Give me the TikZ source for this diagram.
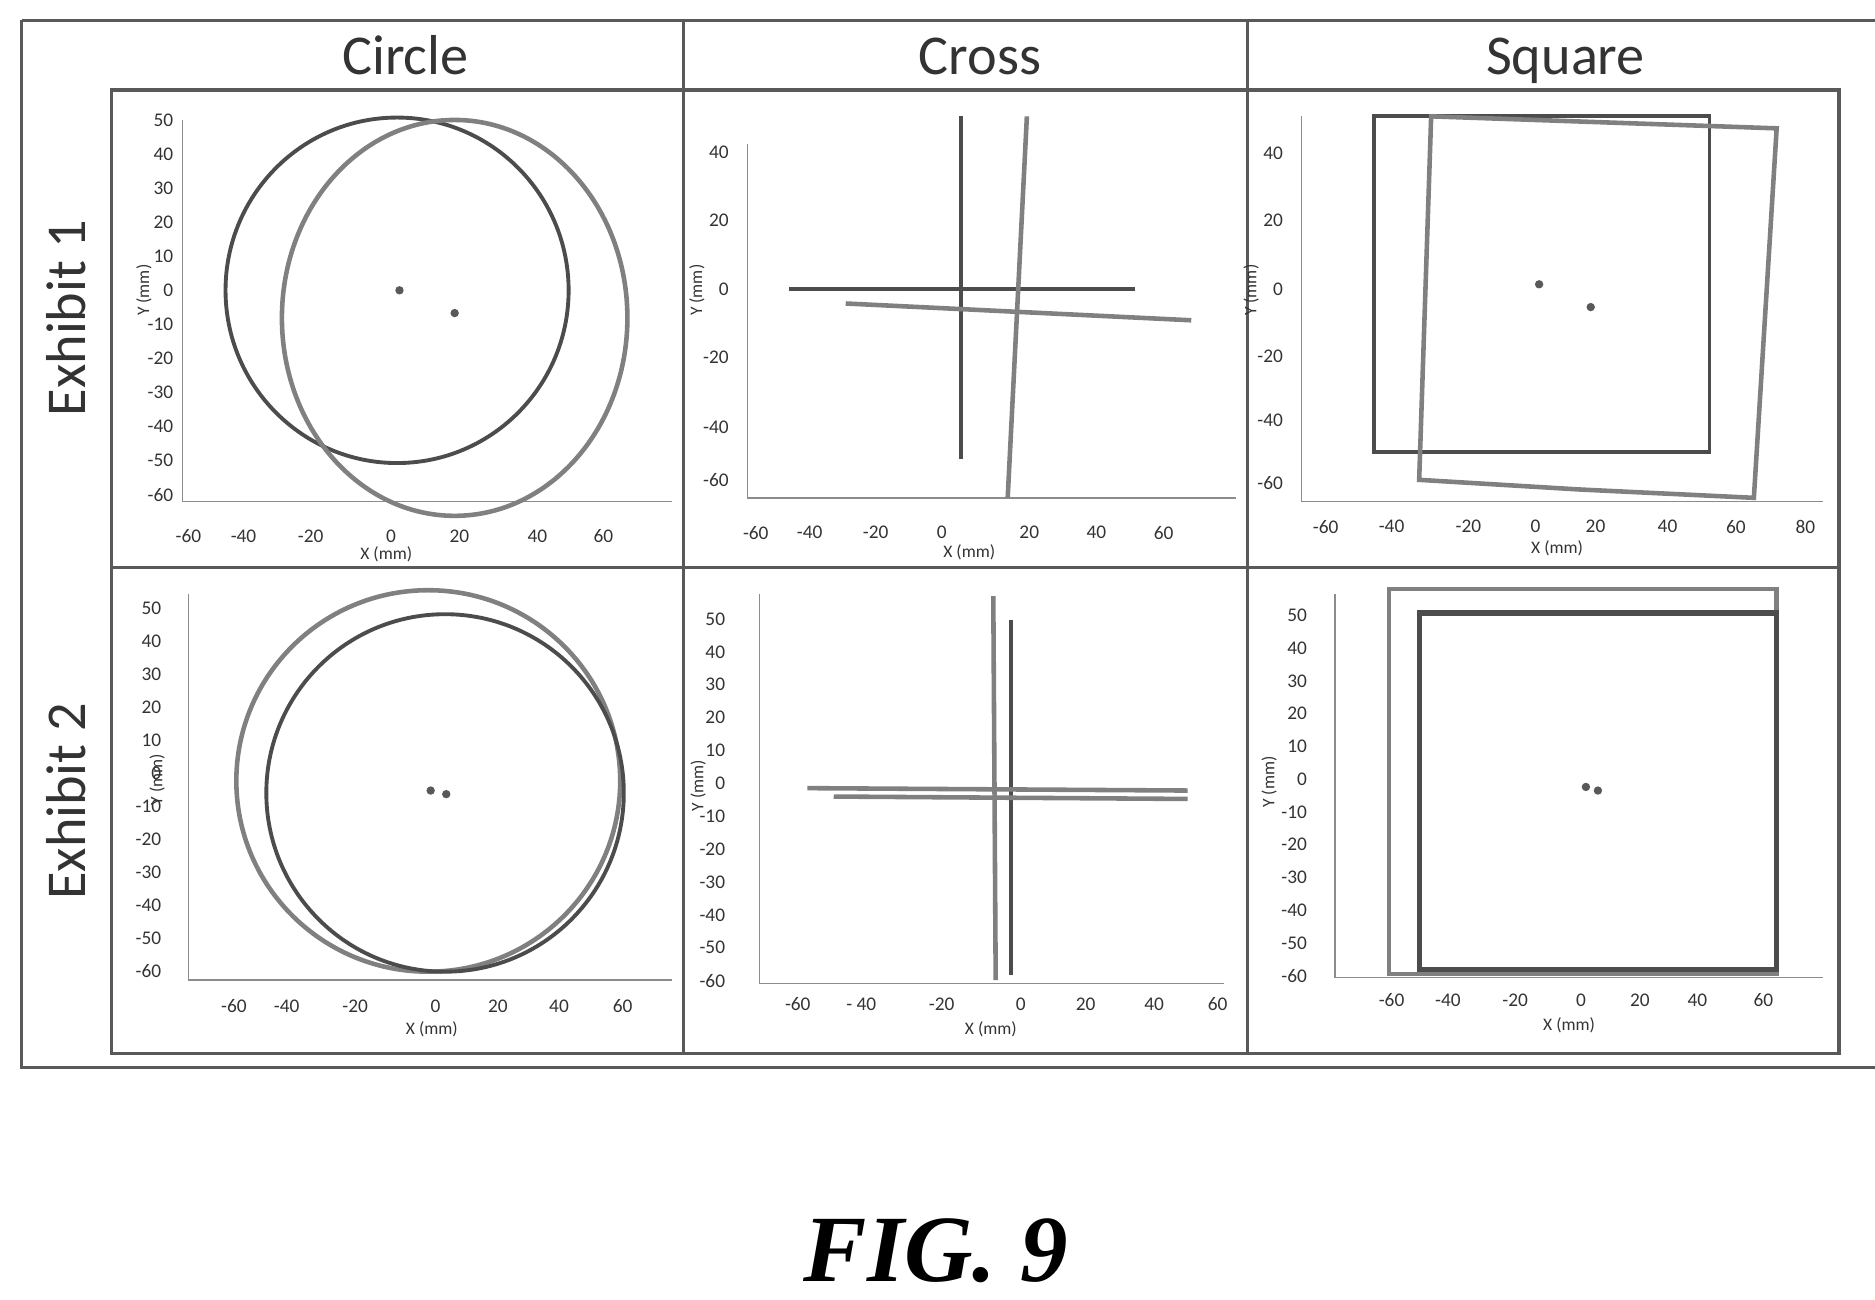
\documentclass[tikz,border=0pt]{standalone}
\usepackage{fontspec}
\setmainfont{Liberation Serif}
\setsansfont{Carlito}
\begin{document}
\begin{tikzpicture}[x=0.012cm,y=-0.012cm,
 grid/.style={draw=black!65,line width=0.9pt},
 ax/.style={draw=black!45,line width=0.4pt},
 tk/.style={font=\sffamily\fontsize{5.5}{5.5}\selectfont,text=black!80,inner sep=0pt},
 lab/.style={font=\sffamily\fontsize{5}{5}\selectfont,text=black!80,inner sep=0pt},
 head/.style={font=\sffamily\fontsize{16}{16}\selectfont,text=black!80},
 s1/.style={draw=black!70,line width=1.1pt},
 s2/.style={draw=black!50,line width=1.3pt},
 dot/.style={fill=black!65,draw=none}]
\useasboundingbox (0,0) rectangle (1563,1083);
% table
\draw[grid] (18,17) -- (1563,17);
\draw[grid] (18,17) -- (18,890) -- (1563,890);
\draw[grid] (93,75) rectangle (1533,878);
\draw[grid] (570,17) -- (570,878);
\draw[grid] (1040,17) -- (1040,878);
\draw[grid] (93,473) -- (1533,473);
\node[head,anchor=base] (h1) at (338,62) {Circle};
\node[head,anchor=base] (h2) at (817,62) {Cross};
\node[head,anchor=base] (h3) at (1305,62) {Square};
\node[head,rotate=90] (r1) at (55,265) {Exhibit 1};
\node[head,rotate=90] (r2) at (55,668) {Exhibit 2};
\node[font=\bfseries\itshape\fontsize{27}{27}\selectfont,anchor=base] (fig) at (780,1068) {FIG. 9};
% ---------- panel 1
\draw[ax] (152,100) -- (152,418) -- (560,418);
\foreach \x/\l in {157/-60,203/-40,259/-20,326/0,383/20,448/40,503/60} \node[tk] at (\x,447) {\l};
\foreach \l [count=\i from 0] in {50,40,30,20,10,0,-10,-20,-30,-40,-50,-60} \node[tk,anchor=east] at (145,100+\i*28.4) {\l};
\node[lab] (xl1) at (322,462) {X (mm)};
\node[lab,rotate=90] (yl1) at (120,242) {Y (mm)};
\draw[s1] (331,242) circle [x radius=143,y radius=144];
\draw[s2] (379,265) ellipse [x radius=144,y radius=165];
\fill[dot] (333,242) circle (3.5); \fill[dot] (379,261) circle (3.5);
% ---------- panel 2
\draw[ax] (623,120) -- (623,415) -- (1030,415);
\foreach \x/\l in {630/-60,675/-40,730/-20,785/0,858/20,914/40,970/60} \node[tk] at (\x,444) {\l};
\foreach \y/\l in {127/40,184/20,241/0,298/-20,356/-40,400/-60} \node[tk,anchor=east] at (608,\y) {\l};
\node[lab] (xl2) at (808,460) {X (mm)};
\node[lab,rotate=90] (yl2) at (581,242) {Y (mm)};
\draw[s1] (801,97) -- (801,383);
\draw[s1] (658,241) -- (946,241);
\draw[s2] (856,97) -- (840,415);
\draw[s2] (705,253) -- (993,267);
% ---------- panel 3
\draw[ax] (1085,97) -- (1085,418) -- (1520,418);
\foreach \x/\l in {1105/-60,1160/-40,1224/-20,1280/0,1330/20,1390/40,1447/60,1505/80} \node[tk] at (\x,439) {\l};
\foreach \y/\l in {128/40,184/20,241/0,297/-20,350/-40,403/-60} \node[tk,anchor=east] at (1070,\y) {\l};
\node[lab] (xl3) at (1298,457) {X (mm)};
\node[lab,rotate=90] (yl3) at (1043,242) {Y (mm)};
\draw[s1] (1145,97) rectangle (1425,377);
\draw[s2] (1193,97) -- (1481,107) -- (1462,415) -- (1316,408) -- (1183,400) -- cycle;
\fill[dot] (1283,237) circle (3.5); \fill[dot] (1326,256) circle (3.5);
% ---------- panel 4
\draw[ax] (157,495) -- (157,817) -- (560,817);
\foreach \x/\l in {195/-60,239/-40,296/-20,363/0,415/20,466/40,519/60} \node[tk] at (\x,839) {\l};
\foreach \l [count=\i from 0] in {50,40,30,20,10,0,-10,-20,-30,-40,-50,-60} \node[tk,anchor=east] at (135,507+\i*27.5) {\l};
\node[lab] (xl4) at (360,858) {X (mm)};
\node[lab,rotate=90] (yl4) at (131,650) {Y (mm)};
\draw[s2] (357,651) circle [x radius=160,y radius=159];
\draw[s1] (371,661) circle (149);
\fill[dot] (359,659) circle (3.5); \fill[dot] (372,662) circle (3.5);
% ---------- panel 5
\draw[ax] (633,495) -- (633,820) -- (1020,820);
\foreach \x/\l in {665/-60,718/- 40,785/-20,851/0,905/20,962/40,1015/60} \node[tk] at (\x,837) {\l};
\foreach \l [count=\i from 0] in {50,40,30,20,10,0,-10,-20,-30,-40,-50,-60} \node[tk,anchor=east] at (605,516+\i*27.4) {\l};
\node[lab] (xl5) at (826,858) {X (mm)};
\node[lab,rotate=90] (yl5) at (582,655) {Y (mm)};
\draw[s2] (828,497) -- (830,817);
\draw[s1] (843,517) -- (843,813);
\draw[s2] (673,657) -- (990,659);
\draw[s2] (695,664) -- (990,666);
% ---------- panel 6
\draw[ax] (1113,495) -- (1113,815) -- (1520,815);
\foreach \x/\l in {1160/-60,1207/-40,1263/-20,1318/0,1367/20,1415/40,1470/60} \node[tk] at (\x,834) {\l};
\foreach \l [count=\i from 0] in {50,40,30,20,10,0,-10,-20,-30,-40,-50,-60} \node[tk,anchor=east] at (1090,513+\i*27.3) {\l};
\node[lab] (xl6) at (1308,855) {X (mm)};
\node[lab,rotate=90] (yl6) at (1058,652) {Y (mm)};
\draw[s2] (1158,491) rectangle (1481,812);
\draw[s1,line width=1.5pt] (1183,511) rectangle (1481,808);
\fill[dot] (1322,656) circle (3.5); \fill[dot] (1332,659) circle (3.5);
\end{tikzpicture}
\end{document}
